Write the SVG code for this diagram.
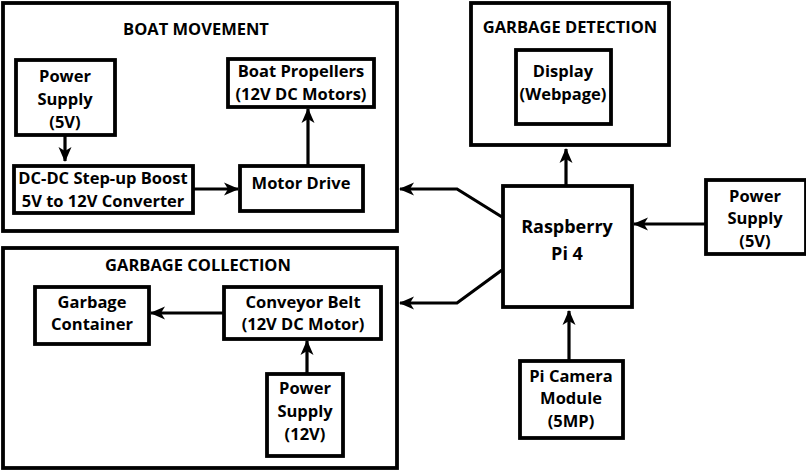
<svg xmlns="http://www.w3.org/2000/svg" width="806" height="471" viewBox="0 0 806 471">
<defs>
<marker id="ah" markerUnits="userSpaceOnUse" markerWidth="15" markerHeight="15" viewBox="0 0 15 15" refX="14" refY="7.5" orient="auto">
<path d="M0,1 L15,7.5 L0,14 L4,7.5 z" fill="#000"/>
</marker>
<style>
rect{fill:#fff;stroke:#000;stroke-width:3.8}
.grp{fill:none;stroke:#000;stroke-width:3.8}
text{font-family:"Open Sans","DejaVu Sans",sans-serif;font-weight:bold;font-size:16.5px;fill:#000;text-anchor:middle}
.t{font-size:16.5px}
.c{fill:none;stroke:#000;stroke-width:3.2}
</style>
</defs>
<rect x="0" y="0" width="806" height="471" style="fill:#fff;stroke:none"/>
<g id="boat-movement">
<rect class="grp" x="3" y="3" width="394" height="228"/>
<text class="t" x="196" y="35">BOAT MOVEMENT</text>
</g>
<g id="garbage-detection">
<rect class="grp" x="471" y="3" width="198" height="142"/>
<text class="t" x="570" y="33">GARBAGE DETECTION</text>
</g>
<g id="garbage-collection">
<rect class="grp" x="3" y="248" width="394" height="220"/>
<text class="t" x="198" y="271">GARBAGE COLLECTION</text>
</g>
<g id="ps5-boat">
<rect x="16" y="60" width="99" height="75"/>
<text x="65" y="82">Power</text><text x="65" y="105">Supply</text><text x="65" y="128">(5V)</text>
</g>
<g id="dcdc">
<rect x="14" y="166" width="179" height="47"/>
<text x="103" y="184">DC-DC Step-up Boost</text><text x="103" y="207">5V to 12V Converter</text>
</g>
<g id="motor-drive">
<rect x="240" y="166" width="123" height="45"/>
<text x="301" y="189">Motor Drive</text>
</g>
<g id="propellers">
<rect x="228" y="59" width="146" height="48"/>
<text x="301" y="77">Boat Propellers</text><text x="301" y="100">(12V DC Motors)</text>
</g>
<g id="display">
<rect x="516" y="50" width="95" height="74"/>
<text x="563" y="77">Display</text><text x="563" y="100">(Webpage)</text>
</g>
<g id="raspberry-pi">
<rect x="503" y="186" width="129" height="121"/>
<text x="567" y="233" style="font-size:18px">Raspberry</text><text x="567" y="260" style="font-size:18px">Pi 4</text>
</g>
<g id="ps5-pi">
<rect x="706" y="180" width="100" height="74"/>
<text x="755" y="202">Power</text><text x="755" y="224">Supply</text><text x="755" y="247">(5V)</text>
</g>
<g id="pi-camera">
<rect x="520" y="361" width="103" height="77"/>
<text x="571" y="382">Pi Camera</text><text x="571" y="404">Module</text><text x="571" y="427">(5MP)</text>
</g>
<g id="garbage-container">
<rect x="35" y="287" width="114" height="57"/>
<text x="92" y="308">Garbage</text><text x="92" y="330">Container</text>
</g>
<g id="conveyor">
<rect x="224" y="287" width="157" height="52"/>
<text x="303" y="308">Conveyor Belt</text><text x="303" y="330">(12V DC Motor)</text>
</g>
<g id="ps12">
<rect x="267" y="374" width="76" height="82"/>
<text x="305" y="394">Power</text><text x="305" y="417">Supply</text><text x="305" y="440">(12V)</text>
</g>
<g id="connectors">
<path class="c" d="M65,136 V161" marker-end="url(#ah)"/>
<path class="c" d="M194,189 H238" marker-end="url(#ah)"/>
<path class="c" d="M308,165 V109" marker-end="url(#ah)"/>
<path class="c" d="M566,185 V149" marker-end="url(#ah)"/>
<path class="c" d="M705,224 H634" marker-end="url(#ah)"/>
<path class="c" d="M502,217 L457,189 H400" marker-end="url(#ah)"/>
<path class="c" d="M502,270 L457,303 H400" marker-end="url(#ah)"/>
<path class="c" d="M569,360 V311" marker-end="url(#ah)"/>
<path class="c" d="M223,313 H151" marker-end="url(#ah)"/>
<path class="c" d="M307,373 V341" marker-end="url(#ah)"/>
</g>
</svg>
